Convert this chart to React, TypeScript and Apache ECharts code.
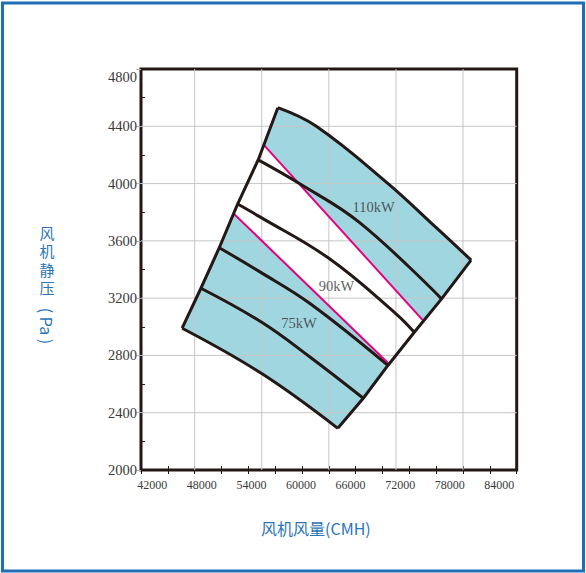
import React, { useEffect, useRef } from 'react';
import * as echarts from 'echarts';

// ---- axis ranges / ticks ----
const X_MIN = 42000;
const X_MAX = 84000;
const X_STEP = 6000;
const Y_MIN = 2000;
const Y_MAX = 4800;
const Y_STEP = 400;

// vertical grid lines (they do not follow the labelled ticks in the original)
const V_GRID = [48000, 55500, 63000, 70500, 78000];
const H_GRID = [2400, 2800, 3200, 3600, 4000, 4400];

// ---- fan curves (air volume CMH, static pressure Pa) ----
const RPM_NAMES = ['980rpm', '1025rpm', '1070rpm', '1115rpm', '1160rpm', '1210rpm'];
const CURVE_980 = [[46600, 2990], [55450, 2675], [64000, 2291]];
const CURVE_1025 = [[48700, 3269], [55450, 3033], [60850, 2791], [66850, 2501]];
const CURVE_1070 = [[50750, 3552], [55250, 3385], [60850, 3164], [69600, 2730]];
const CURVE_1115 = [[52800, 3857], [55250, 3769], [63000, 3478], [70450, 3094], [72550, 2962]];
const CURVE_1160 = [[55100, 4165], [59700, 4000], [66450, 3727], [75600, 3195]];
const CURVE_1210 = [[57300, 4530], [61600, 4400], [69620, 4000], [74700, 3710], [78900, 3466]];
const CURVES = [CURVE_980, CURVE_1025, CURVE_1070, CURVE_1115, CURVE_1160, CURVE_1210];

// ---- power limit lines ----
const POWER_110 = [[55750, 4269], [73650, 3036]];
const POWER_75 = [[52400, 3788], [69650, 2745]];

const POWER_NAMES = ['110kW', '90kW', '75kW'];
const POWER_LABEL_AT = [[68000, 3834], [63850, 3287], [59650, 3029]];

// axis titles
const X_TITLE = '风机风量(CMH)';
const Y_TITLE_CHARS = ['风', '机', '静', '压'];
const Y_TITLE_UNIT = '( Pa )';

// styling
const BLACK = '#231815';
const CYAN = '#a0d6df';
const PINK = '#e4007f';
const BLUE = '#2a74b8';
const GRID_GRAY = '#c6c6c6';
const RPM_LABEL_OFFSET = [[7, 4.5], [0, -2], [0, -3], [0, -1.5], [0, -2], [-2, -1.5]];
const RPM_LABEL_DIST = [5, 3, 3, 2.5, 4, 5];

const last = (a: number[][]) => a[a.length - 1];

// filled bands
const UPPER_BAND = [POWER_110[0], ...CURVE_1210, last(CURVE_1160), POWER_110[1]];
const LOWER_BAND = [
  CURVE_980[0], CURVE_1025[0], CURVE_1070[0], POWER_75[0], POWER_75[1],
  last(CURVE_1070), last(CURVE_1025), ...CURVE_980.slice().reverse(),
];
const BANDS = [UPPER_BAND, LOWER_BAND];

// grid line segments, built from the grid values and axis ranges
const GRID_SEGMENTS = [
  ...V_GRID.map((x) => [[x, Y_MIN], [x, Y_MAX]]),
  ...H_GRID.map((y) => [[X_MIN, y], [X_MAX, y]]),
];

const xLabelRich: Record<string, any> = {};
for (let i = 0; i <= (X_MAX - X_MIN) / X_STEP; i++) {
  const shift = 11.3 - 4.1 * i;
  xLabelRich['s' + i] = {
    fontFamily: 'Liberation Serif',
    fontSize: 12,
    color: '#3a3a3a',
    padding: shift > 0 ? [0, 0, 0, 2 * shift] : [0, -2 * shift, 0, 0],
  };
}

const GRID_RECT = { left: 141, right: 69.3, top: 69, bottom: 103 };

export default function App() {
  const ref = useRef<HTMLDivElement>(null);
  useEffect(() => {
    const chart = echarts.init(ref.current!, null, { renderer: 'svg' });
    const curveSeries = CURVES.map((c, ci) => ({
      name: RPM_NAMES[ci],
      type: 'line',
      z: 4,
      smooth: 0.4,
      symbol: 'none',
      silent: true,
      lineStyle: { color: BLACK, width: 3 },
      label: {
        show: false,
        formatter: '{a}',
        fontFamily: 'Liberation Sans',
        fontSize: 10.5,
        color: BLACK,
      },
      data: c.map((p, i) =>
        i === 0
          ? {
              value: p,
              label: {
                show: true,
                position: 'left',
                distance: RPM_LABEL_DIST[ci],
                offset: RPM_LABEL_OFFSET[ci],
              },
            }
          : { value: p }
      ),
    }));

    const option: any = {
      animation: false,
      backgroundColor: '#ffffff',
      grid: [
        {
          ...GRID_RECT,
          show: true,
          borderColor: BLACK,
          borderWidth: 3,
          backgroundColor: 'transparent',
        },
        { ...GRID_RECT, show: false },
      ],
      xAxis: [
        {
          type: 'value',
          gridIndex: 0,
          min: X_MIN,
          max: X_MAX,
          interval: X_STEP,
          name: X_TITLE,
          nameLocation: 'middle',
          nameGap: 50,
          nameTextStyle: {
            fontFamily: 'Noto Sans CJK SC',
            fontSize: 16,
            color: BLUE,
            padding: [0, 26, 0, 0],
          },
          axisLine: { show: false },
          axisTick: { show: true, inside: true, length: 4, lineStyle: { color: BLACK, width: 1 } },
          minorTick: { show: true, splitNumber: 2, length: 4, lineStyle: { color: BLACK, width: 1 } },
          splitLine: { show: false },
          axisLabel: {
            margin: 9,
            formatter: (v: number) => `{s${Math.round((v - X_MIN) / X_STEP)}|${v}}`,
            rich: xLabelRich,
          },
        },
        {
          type: 'value',
          gridIndex: 1,
          position: 'bottom',
          min: X_MIN,
          max: X_MAX,
          interval: X_STEP,
          axisLine: { show: false },
          axisTick: { show: true, inside: false, length: 4, lineStyle: { color: BLACK, width: 1 } },
          minorTick: { show: true, splitNumber: 2, length: 4, lineStyle: { color: BLACK, width: 1 } },
          splitLine: { show: false },
          axisLabel: { show: false },
        },
      ],
      yAxis: [
        {
          type: 'value',
          gridIndex: 0,
          min: Y_MIN,
          max: Y_MAX,
          interval: Y_STEP,
          axisLine: { show: false },
          axisTick: { show: true, inside: false, length: 5, lineStyle: { color: '#b5b5b5', width: 1 } },
          minorTick: { show: false },
          splitLine: { show: false },
          axisLabel: {
            margin: 4,
            formatter: (v: number) => String(v),
            fontFamily: 'Liberation Serif',
            fontSize: 14.5,
            color: '#3a3a3a',
            verticalAlignMaxLabel: 'top',
          },
        },
        {
          type: 'value',
          gridIndex: 1,
          position: 'left',
          min: Y_MIN,
          max: Y_MAX,
          interval: Y_STEP,
          axisLine: { show: false },
          axisTick: { show: false, inside: true },
          minorTick: { show: true, splitNumber: 2, length: 4, lineStyle: { color: BLACK, width: 1 } },
          splitLine: { show: false },
          axisLabel: { show: false },
        },
      ],
      graphic: [
        {
          type: 'rect',
          shape: { x: 2.5, y: 3, width: 581, height: 568 },
          style: { fill: 'none', stroke: '#1f6fb6', lineWidth: 3 },
          silent: true,
        },
        ...Y_TITLE_CHARS.map((ch, i) => ({
          type: 'text',
          x: 47,
          y: 232 + i * 18.5,
          style: {
            text: ch,
            fontFamily: 'Noto Sans CJK SC',
            fontSize: 15,
            lineHeight: 16,
            fill: BLUE,
            align: 'center',
            verticalAlign: 'middle',
          },
        })),
        {
          type: 'text',
          x: 47,
          y: 326,
          rotation: -Math.PI / 2,
          style: {
            text: Y_TITLE_UNIT,
            fontFamily: 'Noto Sans CJK SC',
            fontSize: 16,
            fill: BLUE,
            align: 'center',
            verticalAlign: 'middle',
          },
        },
      ],
      series: [
        {
          type: 'custom',
          name: 'bands',
          z: 1,
          silent: true,
          data: BANDS.map((b) => b[0]),
          renderItem: (params: any, api: any) => {
            const band = BANDS[params.dataIndex];
            return {
              type: 'polygon',
              shape: { points: band.map((p) => api.coord(p)) },
              style: { fill: CYAN, stroke: 'none' },
            };
          },
        },
        {
          type: 'custom',
          name: 'gridLines',
          z: 2,
          silent: true,
          data: GRID_SEGMENTS.map((s) => s[0]),
          renderItem: (params: any, api: any) => {
            const seg = GRID_SEGMENTS[params.dataIndex];
            const a = api.coord(seg[0]);
            const b = api.coord(seg[1]);
            return {
              type: 'line',
              shape: { x1: a[0], y1: a[1], x2: b[0], y2: b[1] },
              style: { stroke: GRID_GRAY, lineWidth: 1 },
            };
          },
        },
        {
          type: 'line',
          name: 'P110',
          z: 3,
          silent: true,
          symbol: 'none',
          lineStyle: { color: PINK, width: 2 },
          data: POWER_110,
        },
        {
          type: 'line',
          name: 'P75',
          z: 3,
          silent: true,
          symbol: 'none',
          lineStyle: { color: PINK, width: 2 },
          data: POWER_75,
        },
        {
          type: 'line',
          name: 'leftEdge',
          z: 4,
          silent: true,
          symbol: 'none',
          lineStyle: { color: BLACK, width: 3, join: 'miter' },
          data: CURVES.map((c) => c[0]),
        },
        {
          type: 'line',
          name: 'rightEdge',
          z: 4,
          silent: true,
          symbol: 'none',
          lineStyle: { color: BLACK, width: 3 },
          data: CURVES.map((c) => last(c)),
        },
        ...curveSeries,
        {
          type: 'scatter',
          name: 'power',
          z: 5,
          silent: true,
          symbolSize: 0,
          label: {
            show: true,
            position: 'inside',
            formatter: (p: any) => POWER_NAMES[p.dataIndex],
            fontFamily: 'Liberation Serif',
            fontSize: 14.5,
            color: '#333333',
          },
          data: POWER_LABEL_AT,
        },
      ],
    };
    chart.setOption(option);
    return () => chart.dispose();
  }, []);
  return (
    <div
      ref={ref}
      style={{ position: 'fixed', left: 0, top: 0, width: 586, height: 573, background: '#ffffff' }}
    />
  );
}
